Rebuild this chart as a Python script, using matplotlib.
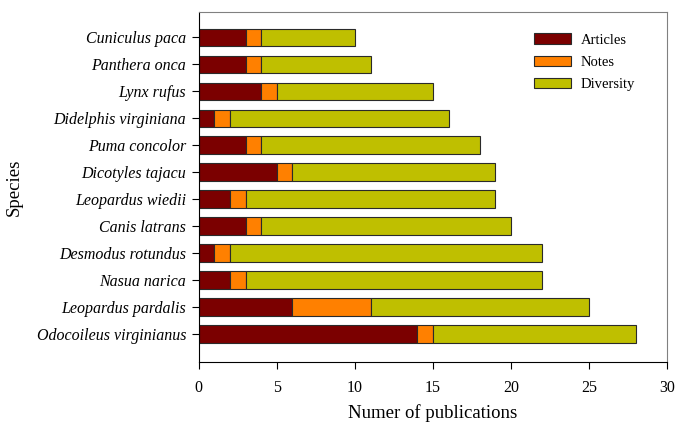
import numpy as np
import matplotlib.pyplot as plt

# species listed bottom to top
species = ['Odocoileus virginianus', 'Leopardus pardalis', 'Nasua narica',
           'Desmodus rotundus', 'Canis latrans', 'Leopardus wiedii',
           'Dicotyles tajacu', 'Puma concolor', 'Didelphis virginiana',
           'Lynx rufus', 'Panthera onca', 'Cuniculus paca']
articles = [14, 6, 2, 1, 3, 2, 5, 3, 1, 4, 3, 3]
notes = [1, 5, 1, 1, 1, 1, 1, 1, 1, 1, 1, 1]
diversity = [13, 14, 19, 20, 16, 16, 13, 14, 14, 10, 7, 6]

plt.rcParams['font.family'] = ['Liberation Serif', 'DejaVu Serif']

fig = plt.figure(figsize=(6.76, 4.23), dpi=100)
ax = fig.add_axes([0.294, 0.144, 0.693, 0.828])

y = np.arange(len(species))
h = 0.65
a = np.array(articles)
n = np.array(notes)
d = np.array(diversity)
ax.barh(y, a, height=h, color='#7B0000', edgecolor='#2a2a2a', linewidth=0.8, label='Articles')
ax.barh(y, n, left=a, height=h, color='#FF8000', edgecolor='#2a2a2a', linewidth=0.8, label='Notes')
ax.barh(y, d, left=a + n, height=h, color='#BFBF00', edgecolor='#2a2a2a', linewidth=0.8, label='Diversity')

ax.set_xlim(0, 30)
ax.set_ylim(-1.05, 11.95)
ax.set_xticks(range(0, 31, 5))
ax.set_yticks(y)
ax.set_yticklabels(species, fontstyle='italic', fontsize=11.5)
ax.tick_params(axis='x', labelsize=11.5, length=5, direction='out', pad=8)
ax.tick_params(axis='y', length=5, direction='out', pad=4)

for s in ['top', 'right']:
    ax.spines[s].set_color('#808080')
for s in ['left', 'bottom']:
    ax.spines[s].set_color('black')

ax.set_xlabel('Numer of publications', fontsize=13.5, labelpad=6)
ax.set_ylabel('Species', fontsize=13.5, labelpad=10)

ax.legend(loc='upper right', bbox_to_anchor=(0.96, 0.976), frameon=False,
          fontsize=10.5, handlelength=2.5, handleheight=0.75, labelspacing=0.6,
          handletextpad=0.7)

fig.savefig('out.png', dpi=100)
